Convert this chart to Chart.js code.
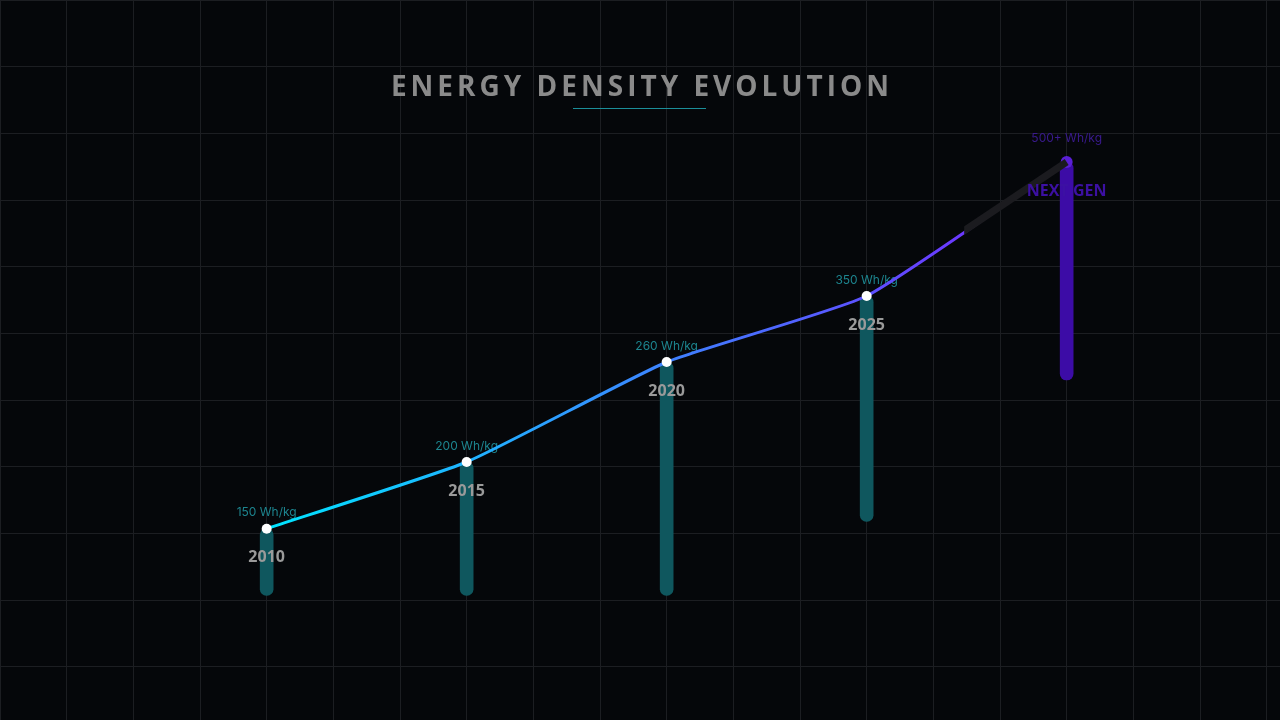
<!DOCTYPE html>
<html><head><meta charset="utf-8">
<style>
html,body{margin:0;padding:0;background:#05070a;width:1280px;height:720px;overflow:hidden;}
#wrap{position:relative;width:1280px;height:720px;}
canvas{position:absolute;left:0;top:0;}
#title{position:absolute;left:2px;top:71px;width:1280px;text-align:center;font-family:'Open Sans',sans-serif;font-weight:700;font-size:28px;line-height:28px;letter-spacing:4px;color:#8a8a8a;white-space:nowrap;}
#rule{position:absolute;left:573px;top:108px;width:133px;height:1px;background:#1b8e99;}
</style>
<script src="https://cdn.jsdelivr.net/npm/chart.js@4.4.1/dist/chart.umd.min.js"></script>
</head><body><div id="wrap"><canvas id="c" width="1280" height="720"></canvas><div id="title">ENERGY DENSITY EVOLUTION</div><div id="rule"></div></div>
<script>
// ---- data ----
const categories = ['2010', '2015', '2020', '2025', 'NEXT GEN'];
const valueLabels = ['150 Wh/kg', '200 Wh/kg', '260 Wh/kg', '350 Wh/kg', '500+ Wh/kg'];
const xSlots = [4, 7, 10, 13, 16];            // horizontal slot of each milestone
const levels = [3.07, 4.07, 5.57, 6.56, 8.57]; // plotted height of each milestone
const barBase = [2.07, 2.07, 2.07, 3.18, 5.3]; // lower end of each vertical bar

const barData = categories.map((c, i) => ({ x: xSlots[i], y: [barBase[i], levels[i]] }));
const lineData = categories.map((c, i) => ({ x: xSlots[i], y: levels[i] }));
const last = categories.length - 1;
const tailData = [lineData[last - 1], lineData[last]];

function mainGradient(ctx) {
  const chart = ctx.chart;
  if (!chart.chartArea) return '#00e5ff';
  const xs = chart.scales.x;
  const x0 = xs.getPixelForValue(xSlots[0]);
  const x1 = xs.getPixelForValue(xSlots[last]);
  const g = chart.ctx.createLinearGradient(x0, 0, x1, 0);
  g.addColorStop(0, '#00e5ff');
  g.addColorStop(1, '#7b1fff');
  return g;
}
function tailGradient(ctx) {
  const chart = ctx.chart;
  if (!chart.chartArea) return 'rgba(0,0,0,0)';
  const xs = chart.scales.x;
  const x0 = xs.getPixelForValue(xSlots[last - 1]);
  const x1 = xs.getPixelForValue(xSlots[last]);
  const g = chart.ctx.createLinearGradient(x0, 0, x1, 0);
  g.addColorStop(0, 'rgba(27,27,31,0)');
  g.addColorStop(0.485, 'rgba(27,27,31,0)');
  g.addColorStop(0.49, 'rgba(27,27,31,1)');
  g.addColorStop(1, 'rgba(27,27,31,1)');
  return g;
}

const labelPlugin = {
  id: 'labels',
  beforeDatasetsDraw(chart) {
    const { ctx, scales } = chart;
    ctx.save();
    ctx.textAlign = 'center';
    ctx.textBaseline = 'middle';
    ctx.font = '12px Inter, "Open Sans", sans-serif';
    categories.forEach((c, i) => {
      const px = scales.x.getPixelForValue(xSlots[i]);
      const py = scales.y.getPixelForValue(levels[i]);
      ctx.fillStyle = i === last ? '#3a1a8e' : '#1d858f';
      ctx.fillText(valueLabels[i], px, py - (i === last ? 24 : 16));
    });
    ctx.restore();
  },
  afterDatasetsDraw(chart) {
    const { ctx, scales } = chart;
    ctx.save();
    ctx.textAlign = 'center';
    ctx.textBaseline = 'middle';
    ctx.font = '700 16px "Open Sans", sans-serif';
    categories.forEach((c, i) => {
      const px = scales.x.getPixelForValue(xSlots[i]);
      const py = scales.y.getPixelForValue(levels[i]);
      ctx.fillStyle = i === last ? '#3c10a3' : '#9a9a9a';
      ctx.fillText(c, px, py + 29);
    });
    ctx.restore();
  }
};

new Chart(document.getElementById('c'), {
  type: 'bar',
  data: {
    datasets: [
      {
        type: 'line', data: lineData, order: 2,
        borderColor: mainGradient, borderWidth: 3, tension: 0.15, fill: false,
        pointRadius: categories.map((c, i) => i === last ? 6 : 5),
        pointBackgroundColor: categories.map((c, i) => i === last ? '#5a1fd6' : '#ffffff'),
        pointBorderWidth: 0, pointHoverRadius: 0
      },
      {
        type: 'line', data: tailData, order: 1,
        borderColor: tailGradient, borderWidth: 7, borderCapStyle: 'butt', pointRadius: 0, fill: false
      },
      {
        type: 'bar', data: barData, order: 3,
        backgroundColor: categories.map((c, i) => i === last ? '#3c0ca6' : '#0f575e'),
        barThickness: 13, borderRadius: 7, borderSkipped: false
      }
    ]
  },
  options: {
    responsive: false, animation: false,
    layout: { padding: 0, autoPadding: false },
    plugins: { legend: { display: false }, tooltip: { enabled: false } },
    scales: {
      x: {
        type: 'linear', min: 0, max: 19.2, offset: false,
        afterBuildTicks: s => { s.ticks = []; for (let v = 0; v <= 19; v++) s.ticks.push({ value: v }); },
        ticks: { display: false }, border: { display: false },
        grid: { color: '#1c1e22', lineWidth: 1, drawTicks: false, offset: false }
      },
      y: {
        type: 'linear', min: 0.2, max: 11,
        afterBuildTicks: s => { s.ticks = []; for (let v = 1; v <= 11; v++) s.ticks.push({ value: v }); },
        ticks: { display: false }, border: { display: false },
        grid: { color: '#1c1e22', lineWidth: 1, drawTicks: false }
      }
    }
  },
  plugins: [labelPlugin]
});
</script>
</body></html>
